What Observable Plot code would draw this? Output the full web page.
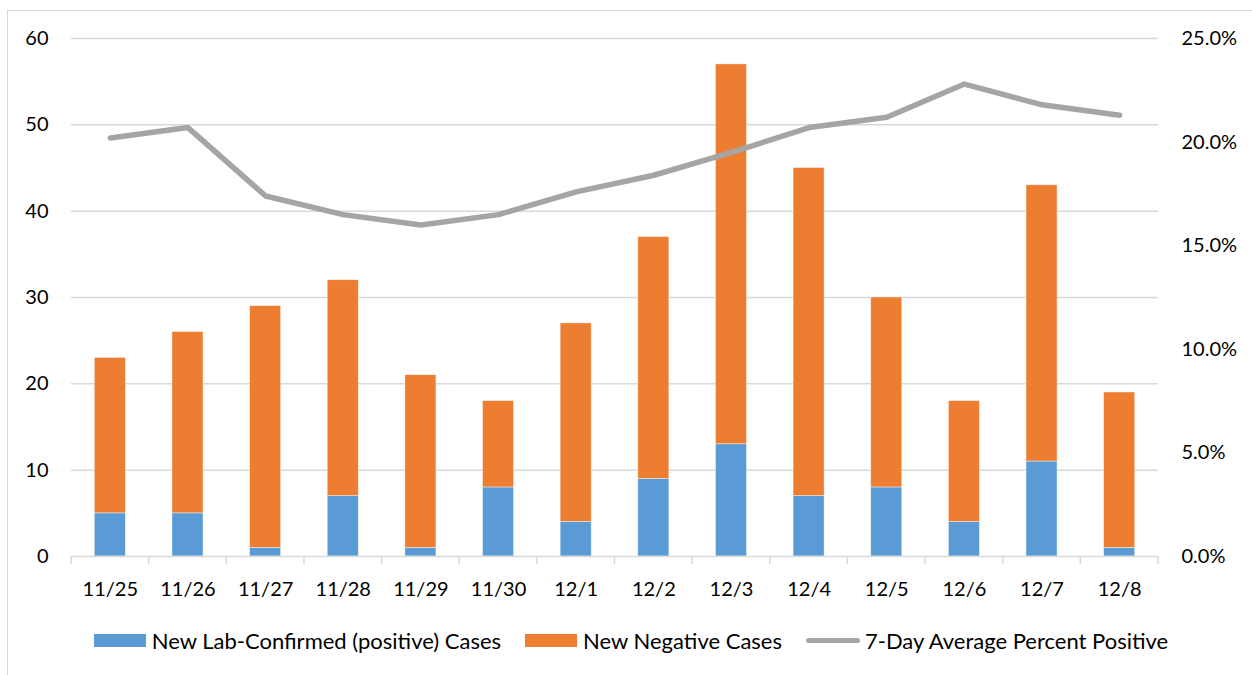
<!DOCTYPE html>
<html><head><meta charset="utf-8">
<script src="https://cdn.jsdelivr.net/npm/d3@7"></script>
<script src="https://cdn.jsdelivr.net/npm/@observablehq/plot@0.6"></script>
<style>
body{margin:0;background:#fff;font-family:Lato,"Open Sans",sans-serif;}
#wrap{position:relative;width:1252px;height:675px;overflow:hidden;}
#frame{position:absolute;left:7px;top:10px;width:1400px;height:800px;border-left:1.5px solid #d9d9d9;border-top:1.5px solid #d9d9d9;pointer-events:none;}
#legend{position:absolute;left:0;top:615px;width:1252px;height:50px;display:flex;justify-content:center;align-items:center;font-size:22px;color:#000;padding-left:10px;box-sizing:border-box;}
.item{display:flex;align-items:center;margin:0 12px;}
.sw{width:52px;height:13px;margin-right:6px;}
.ln{width:54px;height:5px;border-radius:3px;margin-right:5px;}
</style>
</head><body>
<div id="wrap"><div id="chart"></div><div id="legend"></div><div id="frame"></div></div>
<script>
const dates = ["11/25","11/26","11/27","11/28","11/29","11/30","12/1","12/2","12/3","12/4","12/5","12/6","12/7","12/8"];
const positive = [5,5,1,7,1,8,4,9,13,7,8,4,11,1];
const negative = [18,21,28,25,20,10,23,28,44,38,22,14,32,18];
const pctPositive = [20.2,20.7,17.4,16.5,16.0,16.5,17.6,18.4,19.5,20.7,21.2,22.8,21.8,21.3];
const leftTicks = [0,10,20,30,40,50,60];
const rightTicks = [0,5,10,15,20,25];
const seriesNames = ["New Lab-Confirmed (positive) Cases","New Negative Cases","7-Day Average Percent Positive"];
const colors = ["#5B9BD5","#ED7D31","#A5A5A5"];

const maxCount = 60, maxPct = 25, k = maxCount / maxPct;

const rows = [];
dates.forEach((d,i)=>rows.push({date:d, series:seriesNames[0], value:positive[i]}));
dates.forEach((d,i)=>rows.push({date:d, series:seriesNames[1], value:negative[i]}));
const lineRows = dates.map((d,i)=>({date:d, pct:pctPositive[i]}));

const boundaryTicks = (index, scales, values, dims) => {
  const n = dates.length;
  const x0 = dims.marginLeft, x1 = dims.width - dims.marginRight;
  const y0 = dims.height - dims.marginBottom;
  const g = d3.create("svg:g");
  for (let j = 0; j <= n; j++) {
    const xx = x0 + (x1 - x0) * j / n;
    g.append("line").attr("x1", xx).attr("x2", xx).attr("y1", y0).attr("y2", y0 + 8)
      .attr("stroke", "#d9d9d9").attr("stroke-width", 1.5);
  }
  return g.node();
};

const chart = Plot.plot({
  width: 1252, height: 615,
  marginTop: 38, marginBottom: 59, marginLeft: 71, marginRight: 94,
  style: {fontFamily: "Lato, 'Open Sans', sans-serif", fontSize: "20px", color: "#000", background: "transparent"},
  x: {type: "band", domain: dates, paddingInner: 0.6, paddingOuter: 0.3, round: false},
  y: {domain: [0, maxCount]},
  color: {domain: seriesNames.slice(0,2), range: colors.slice(0,2)},
  marks: [
    Plot.gridY(leftTicks.slice(1), {stroke: "#d9d9d9", strokeOpacity: 1, strokeWidth: 1.5}),
    Plot.barY(rows, {x: "date", y: "value", fill: "series", stroke: "#fff", strokeOpacity: 0.6, strokeWidth: 0.7}),
    Plot.ruleY([0], {stroke: "#d9d9d9", strokeWidth: 1.5}),
    boundaryTicks,
    Plot.axisX({tickSize: 0, tickPadding: 25, label: null, fontSize: 20}),
    Plot.axisY(leftTicks, {anchor: "left", tickSize: 0, tickPadding: 23, label: null, fontSize: 20}),
    Plot.axisY(rightTicks.map(t => t * k), {anchor: "right", tickSize: 0, tickPadding: 23, label: null, fontSize: 20,
      tickFormat: d => (d / k).toFixed(1) + "%"}),
    Plot.line(lineRows, {x: "date", y: d => d.pct * k, stroke: colors[2], strokeWidth: 5.5, strokeLinecap: "round", strokeLinejoin: "round"})
  ]
});
document.getElementById("chart").appendChild(chart);

const legend = document.getElementById("legend");
seriesNames.forEach((name, i) => {
  const it = document.createElement("div"); it.className = "item";
  const sw = document.createElement("div"); sw.className = i < 2 ? "sw" : "ln"; sw.style.background = colors[i];
  const tx = document.createElement("span"); tx.textContent = name;
  it.appendChild(sw); it.appendChild(tx); legend.appendChild(it);
});
</script>
</body></html>
